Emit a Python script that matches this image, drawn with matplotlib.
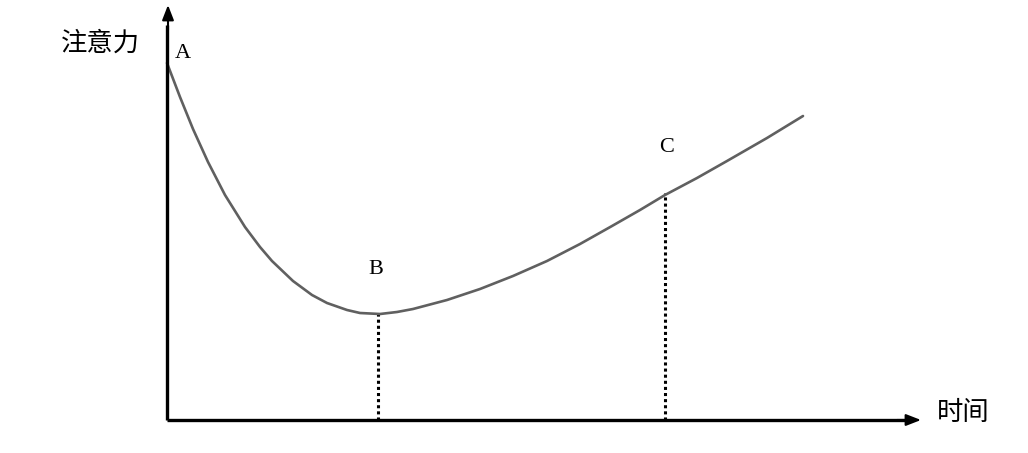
import matplotlib
matplotlib.use("Agg")
import matplotlib.pyplot as plt

plt.rcParams['font.family'] = ['Noto Sans CJK SC', 'DejaVu Sans']

# Curve (time, attention)
time = [0.00, 0.13, 0.26, 0.41, 0.58, 0.78, 0.93, 1.05, 1.26, 1.45, 1.60,
        1.80, 1.93, 2.13, 2.30, 2.46, 2.80, 3.13, 3.46, 3.80, 4.13, 4.45,
        4.73, 4.98, 5.30, 5.60, 6.00, 6.36]
attention = [3.57, 3.23, 2.91, 2.58, 2.25, 1.93, 1.73, 1.59, 1.39, 1.25, 1.17,
             1.10, 1.07, 1.06, 1.08, 1.11, 1.20, 1.31, 1.44, 1.59, 1.76, 1.94,
             2.10, 2.25, 2.42, 2.59, 2.82, 3.04]

points = ['A', 'B', 'C']
point_t = [0.00, 2.11, 4.98]
point_a = [3.57, 1.06, 2.27]

x_label = '时间'
y_label = '注意力'

fig = plt.figure(figsize=(10.28, 4.53), dpi=100)
ax = fig.add_axes([0, 0, 1, 1])
ax.set_xlim(-1.67, 8.61)
ax.set_ylim(-0.33, 4.20)
ax.axis('off')

# curve
ax.plot(time, attention, color='#606060', lw=1.9, solid_capstyle='round',
        solid_joinstyle='round', zorder=3)

# dotted droplines at B and C
for t, a in zip(point_t[1:], point_a[1:]):
    ax.plot([t, t], [0, a], color='black', lw=2.2, linestyle=(0, (1, 1)), zorder=2)

# axes with arrows
ax.plot([0, 7.40], [0, 0], color='black', lw=2.4, solid_capstyle='butt', zorder=4)
ax.plot([0, 0], [0, 3.95], color='black', lw=2.4, solid_capstyle='butt', zorder=4)
ax.annotate('', xy=(7.54, 0), xytext=(7.30, 0),
            arrowprops=dict(arrowstyle='-|>,head_length=0.9,head_width=0.35',
                            color='black', lw=1.5, shrinkA=0, shrinkB=0), zorder=5)
ax.annotate('', xy=(0.01, 4.15), xytext=(0.01, 3.90),
            arrowprops=dict(arrowstyle='-|>,head_length=0.9,head_width=0.35',
                            color='black', lw=1.5, shrinkA=0, shrinkB=0), zorder=5)

# point labels
offsets = [(0.16, 0.10), (-0.02, 0.45), (0.02, 0.46)]
for name, t, a, (dx, dy) in zip(points, point_t, point_a, offsets):
    ax.text(t + dx, a + dy, name, family='Liberation Serif', fontsize=16,
            ha='center', va='center', color='black')

ax.text(-0.67, 3.77, y_label, fontsize=19, ha='center', va='center', color='black')
ax.text(7.96, 0.07, x_label, fontsize=19, ha='center', va='center', color='black')

fig.savefig('out.png', dpi=100)
